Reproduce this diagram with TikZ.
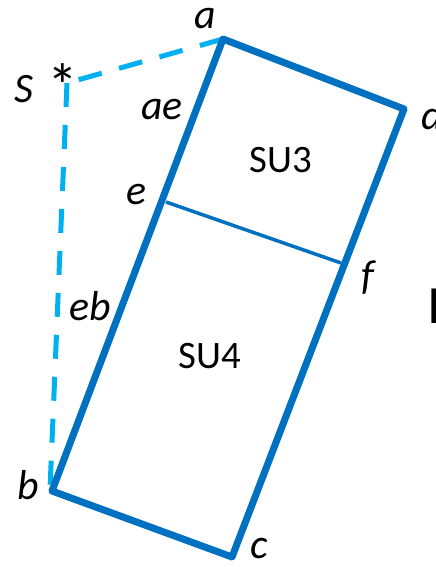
\documentclass[tikz,border=0pt]{standalone}
\usepackage{fontspec}
\setmainfont{Carlito}
\begin{document}
\begin{tikzpicture}[x=1bp,y=-1bp,
  thickblue/.style={draw={rgb,255:red,0;green,112;blue,192},line width=7bp,line join=round,line cap=round},
  thinblue/.style={draw={rgb,255:red,0;green,112;blue,192},line width=3.5bp},
  sdash/.style={draw={rgb,255:red,0;green,176;blue,240},line width=5bp,dash pattern=on 24bp off 18bp},
  lbl/.style={inner sep=0pt,font=\fontsize{42}{42}\selectfont\itshape},
  sulbl/.style={inner sep=0pt,font=\fontsize{39}{39}\selectfont}]
\useasboundingbox (0,0) rectangle (436,567);
\coordinate (a) at (223,39);
\coordinate (d) at (404,109);
\coordinate (c) at (232,557);
\coordinate (b) at (52,491);
\coordinate (e) at (166,202);
\coordinate (f) at (341,263);
\coordinate (s) at (67,83);
\coordinate (send) at (50,489);
% dashed connectors
\draw[sdash] (a) -- (s);
\draw[sdash] (s) -- (send);
% rectangle
\draw[thickblue] (a) -- (d) -- (c) -- (b) -- cycle;
\draw[thinblue] (e) -- (f);
% labels
\node[lbl] (la) at (205,19) {a};
\node[lbl] (lS) at (24,89) {S};
\node[inner sep=0pt,font=\fontsize{62}{62}\selectfont] (ls) at (63,86) {*};
\node[lbl] (lae) at (162,110) {ae};
\node[lbl] (le) at (136,195) {e};
\node[lbl] (leb) at (90,306) {eb};
\node[lbl] (lb) at (28,485) {b};
\node[lbl] (lc) at (259,549) {c};
\node[lbl] (lf) at (368,278) {f};
\node[lbl,anchor=west] (ld) at (421,115) {d};
\node[sulbl] (su3) at (281,160) {SU3};
\node[sulbl] (su4) at (210,356) {SU4};
\node[inner sep=0pt,anchor=base west,font=\fontsize{54}{54}\selectfont] (big) at (427,323) {I};
\end{tikzpicture}
\end{document}
